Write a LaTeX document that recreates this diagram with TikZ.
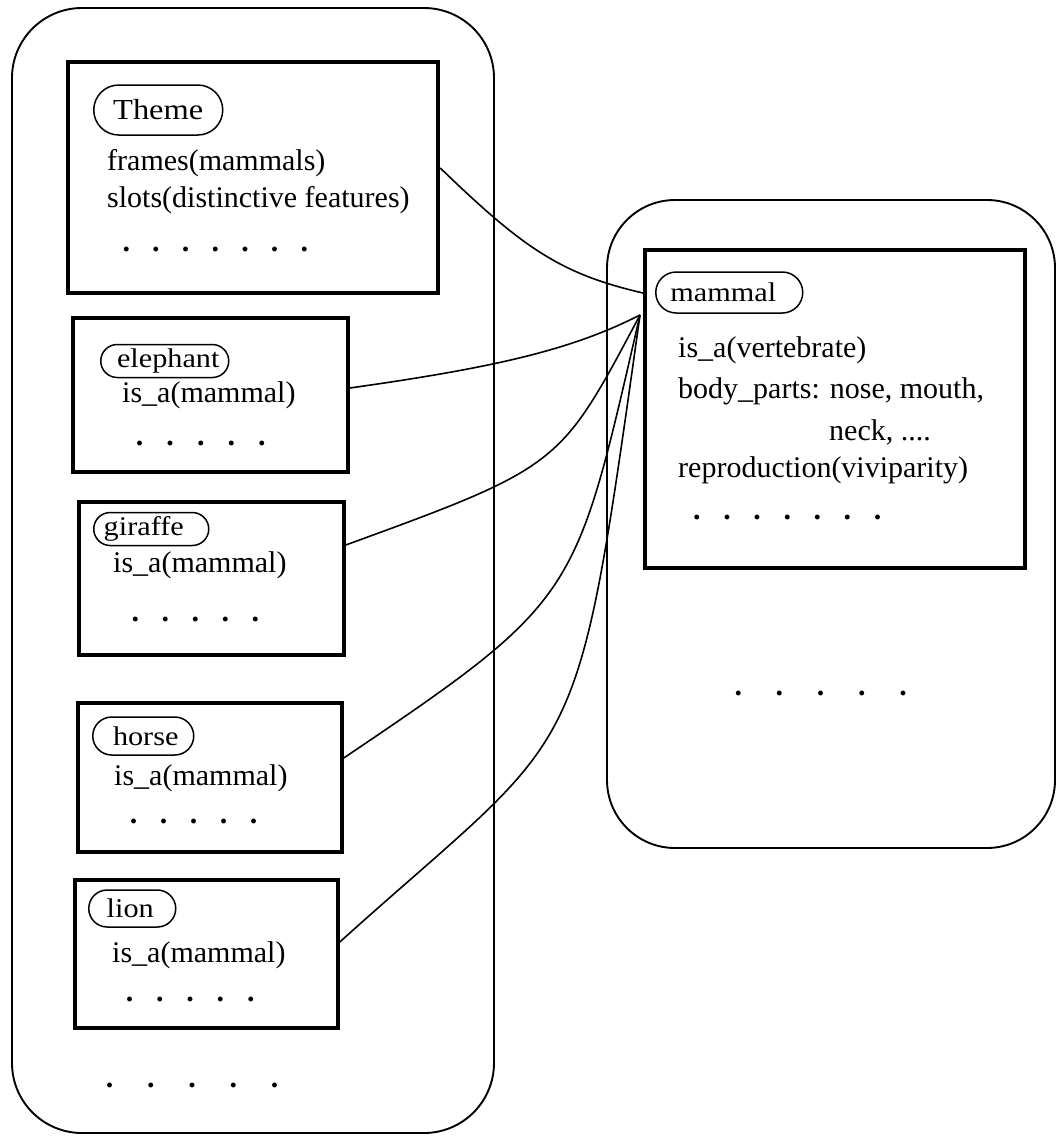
\documentclass[tikz,border=0pt]{standalone}
\usepackage{fontspec}
\setmainfont{Liberation Serif}
\newfontfamily\tagfont{Liberation Serif}[FakeStretch=1.12]
\usetikzlibrary{calc}

% a row of #1 full stops, #2 of extra space between neighbours
\newcommand\dotrow[2]{\textbf{.}\foreach \k in {2,...,#1}{\hspace{#2}\textbf{.}}}

\begin{document}
\begin{tikzpicture}[x=1pt, y=-1pt,
  every node/.style={font=\fontsize{30}{36}\selectfont, inner sep=0pt},
  container/.style={draw, line width=1.9pt, rounded corners=#1},
  framebox/.style={draw, line width=#1},
  pill/.style n args={2}{draw, line width=1.5pt, anchor=west,
    font=\tagfont\fontsize{27}{32}\selectfont,
    minimum width=#1, minimum height=#2, rounded corners=0.5*#2},
  entry/.style={anchor=base west},
  link/.style={line width=1.6pt}]

\useasboundingbox (0,0) rectangle (1057,1138);

% the two knowledge bases
\node[container=70pt, minimum width=482pt, minimum height=1125pt] (lbox) at (253,570.5) {};
\node[container=68pt, minimum width=448pt, minimum height=648pt] (rbox) at (831,524) {};

% theme frame
\node[framebox=4.5pt, minimum width=370pt, minimum height=231pt] (theme) at (253,177.5) {};
\node[pill={129pt}{50pt}, font=\tagfont\fontsize{29}{34}\selectfont] (themetag) at (93,110) {Theme};
\node[entry] (themeA) at (107,170) {frames(mammals)};
\node[entry] (themeB) at (107,207) {slots(distinctive features)};
\node[entry] (themeC) at (122.3,251.5) {\dotrow{7}{22.2pt}};

% elephant frame
\node[framebox=3.5pt, minimum width=275pt, minimum height=154pt] (elephant) at (210.5,395) {};
\node[pill={128pt}{33pt}] (eltag) at (100,361) {\hspace*{7pt}elephant};
\node[entry] (elA) at (122,402) {is\_a(mammal)};
\node[entry] (elB) at (135.6,445) {\dotrow{5}{23.1pt}};

% giraffe frame
\node[framebox=3.5pt, minimum width=265pt, minimum height=153pt] (giraffe) at (211.5,578.5) {};
\node[pill={115pt}{33pt}] (gitag) at (93,529) {giraffe\hspace*{15pt}};
\node[entry] (giA) at (113,572) {is\_a(mammal)};
\node[entry] (giB) at (131.3,621.5) {\dotrow{5}{22.5pt}};

% horse frame
\node[framebox=3.5pt, minimum width=264pt, minimum height=149pt] (horse) at (210,777.5) {};
\node[pill={101pt}{38pt}] (hotag) at (92,736) {\hspace*{5pt}horse};
\node[entry] (hoA) at (114,785) {is\_a(mammal)};
\node[entry] (hoB) at (129.6,823.2) {\dotrow{5}{22.5pt}};

% lion frame
\node[framebox=3.5pt, minimum width=263pt, minimum height=148pt] (lion) at (206.5,954) {};
\node[pill={87pt}{37pt}] (litag) at (88,908.5) {lion\hspace*{4pt}};
\node[entry] (liA) at (112,962) {is\_a(mammal)};
\node[entry] (liB) at (125.6,1001.5) {\dotrow{5}{22.8pt}};

\node[entry] (more) at (105.6,1087.5) {\dotrow{5}{33.75pt}};

% mammal frame
\node[framebox=4pt, minimum width=380pt, minimum height=318pt] (mammal) at (835,409) {};
\node[pill={147pt}{41pt}] (matag) at (655,292.5) {mammal\hspace*{12pt}};
\node[entry] (maA) at (678,357) {is\_a(vertebrate)};
\node[entry] (maB) at (678,398) {body\_parts: nose, mouth,};
\node[entry] (maC) at (829,440) {neck, ....};
\node[entry] (maD) at (678,477) {reproduction(viviparity)};
\node[entry] (maE) at (693,519.8) {\dotrow{7}{22.6pt}};

\node[entry] (rmore) at (734.3,695.5) {\dotrow{5}{33.7pt}};

% links into the mammal frame
\coordinate (hub) at ([xshift=-3pt,yshift=94pt]mammal.west);
\draw[link] ([yshift=9.5pt]theme.east) .. controls +(-44:115pt) and +(167:85pt) .. ([yshift=116pt]mammal.west);
\draw[link] ([yshift=7pt]elephant.east) .. controls +(8:150pt) and +(-153:75pt) .. (hub);
\draw[link] ([yshift=33.5pt]giraffe.east) .. controls +(20:230pt) and +(-118:170pt) .. (hub);
\draw[link] ([yshift=19.5pt]horse.east) .. controls +(34:285pt) and +(-103:290pt) .. (hub);
\draw[link] ([yshift=12pt]lion.east) .. controls +(42:330pt) and +(-98:470pt) .. (hub);

\end{tikzpicture}
\end{document}
